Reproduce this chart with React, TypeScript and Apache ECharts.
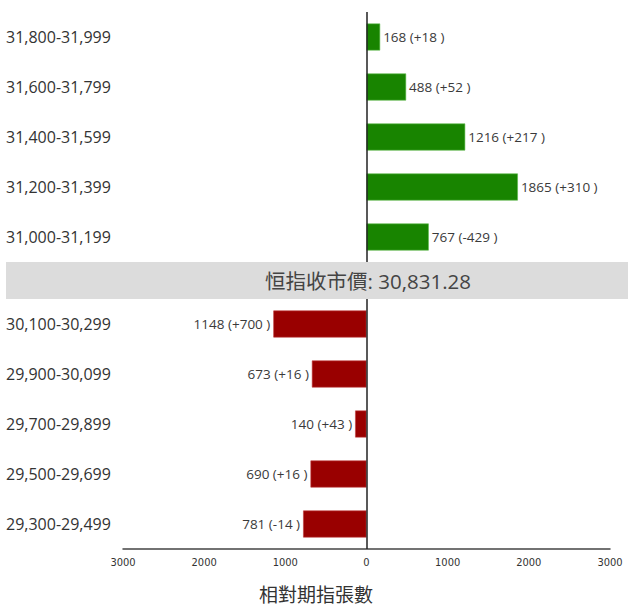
import React, { useEffect, useRef } from "react";
import * as echarts from "echarts";

const upperCategories = ["31,800-31,999", "31,600-31,799", "31,400-31,599", "31,200-31,399", "31,000-31,199"];
const upperValues = [168, 488, 1216, 1865, 767];
const upperChanges = ["+18", "+52", "+217", "+310", "-429"];

const lowerCategories = ["30,100-30,299", "29,900-30,099", "29,700-29,899", "29,500-29,699", "29,300-29,499"];
const lowerValues = [1148, 673, 140, 690, 781];
const lowerChanges = ["+700", "+16", "+43", "+16", "-14"];

const axisTicks = [-3000, -2000, -1000, 0, 1000, 2000, 3000];
const closeLabel = "恒指收市價: 30,831.28";
const axisTitle = "相對期指張數";

const FONT = "'Open Sans', 'Noto Sans CJK TC', sans-serif";

export default function App() {
  const ref = useRef<HTMLDivElement>(null);
  useEffect(() => {
    if (!ref.current) return;
    const chart = echarts.init(ref.current, null, { renderer: "svg" });
    const yAxisCommon = {
      type: "category" as const,
      inverse: true,
      axisLine: { show: false },
      axisTick: { show: false },
      axisLabel: {
        align: "left" as const,
        margin: 117,
        fontSize: 16,
        color: "#333",
        fontFamily: FONT,
        padding: [0, 0, 3, 0],
      },
    };
    const zeroLine = {
      silent: true,
      symbol: "none",
      label: { show: false },
      lineStyle: { color: "#222", width: 1.5, type: "solid" as const },
      data: [{ xAxis: 0 }],
    };
    const barLabel = {
      show: true,
      distance: 3,
      fontSize: 13.5,
      color: "#3a3a3a",
      fontFamily: FONT,
    };
    chart.setOption({
      animation: false,
      textStyle: { fontFamily: FONT },
      grid: [
        { left: 123, right: 18, top: 12, height: 250 },
        { left: 123, right: 18, top: 299, height: 250 },
      ],
      xAxis: [
        {
          gridIndex: 0,
          type: "value",
          min: axisTicks[0],
          max: axisTicks[axisTicks.length - 1],
          interval: 1000,
          show: false,
        },
        {
          gridIndex: 1,
          type: "value",
          min: axisTicks[0],
          max: axisTicks[axisTicks.length - 1],
          interval: 1000,
          splitLine: { show: false },
          axisLine: { show: true, onZero: false, lineStyle: { color: "#444", width: 1.5 } },
          axisTick: { show: false },
          axisLabel: {
            fontSize: 11,
            color: "#333",
            margin: 8,
            fontFamily: "'DejaVu Sans Condensed', 'Liberation Sans Narrow', sans-serif",
            formatter: (v: number) => String(Math.abs(v)),
          },
        },
      ],
      yAxis: [
        { ...yAxisCommon, gridIndex: 0, data: upperCategories },
        { ...yAxisCommon, gridIndex: 1, data: lowerCategories },
      ],
      series: [
        {
          type: "bar",
          xAxisIndex: 0,
          yAxisIndex: 0,
          barWidth: 27,
          data: upperValues,
          itemStyle: { color: "#188400", borderColor: "#5cb84a", borderWidth: 0.6 },
          label: {
            ...barLabel,
            position: "right",
            formatter: (p: any) => `${upperValues[p.dataIndex]} (${upperChanges[p.dataIndex]} )`,
          },
          markLine: zeroLine,
        },
        {
          type: "bar",
          xAxisIndex: 1,
          yAxisIndex: 1,
          barWidth: 27,
          data: lowerValues.map((v) => -v),
          itemStyle: { color: "#990000", borderColor: "#c04040", borderWidth: 0.6 },
          label: {
            ...barLabel,
            position: "left",
            formatter: (p: any) => `${lowerValues[p.dataIndex]} (${lowerChanges[p.dataIndex]} )`,
          },
          markLine: zeroLine,
        },
      ],
      graphic: [
        {
          type: "rect",
          left: 6,
          top: 262,
          shape: { width: 622, height: 37 },
          style: { fill: "#dcdcdc" },
          z: 100,
        },
        {
          type: "text",
          x: 368,
          y: 281,
          z: 101,
          style: {
            text: closeLabel,
            align: "center",
            verticalAlign: "middle",
            fontSize: 20.5,
            fill: "#444",
            fontFamily: FONT,
          },
        },
        {
          type: "text",
          x: 316,
          y: 595,
          style: {
            text: axisTitle,
            align: "center",
            verticalAlign: "middle",
            fontSize: 19,
            fill: "#333",
            fontFamily: FONT,
          },
        },
      ],
    });
    return () => chart.dispose();
  }, []);
  return <div ref={ref} style={{ width: 628, height: 608, position: "absolute", left: 0, top: 0 }} />;
}
